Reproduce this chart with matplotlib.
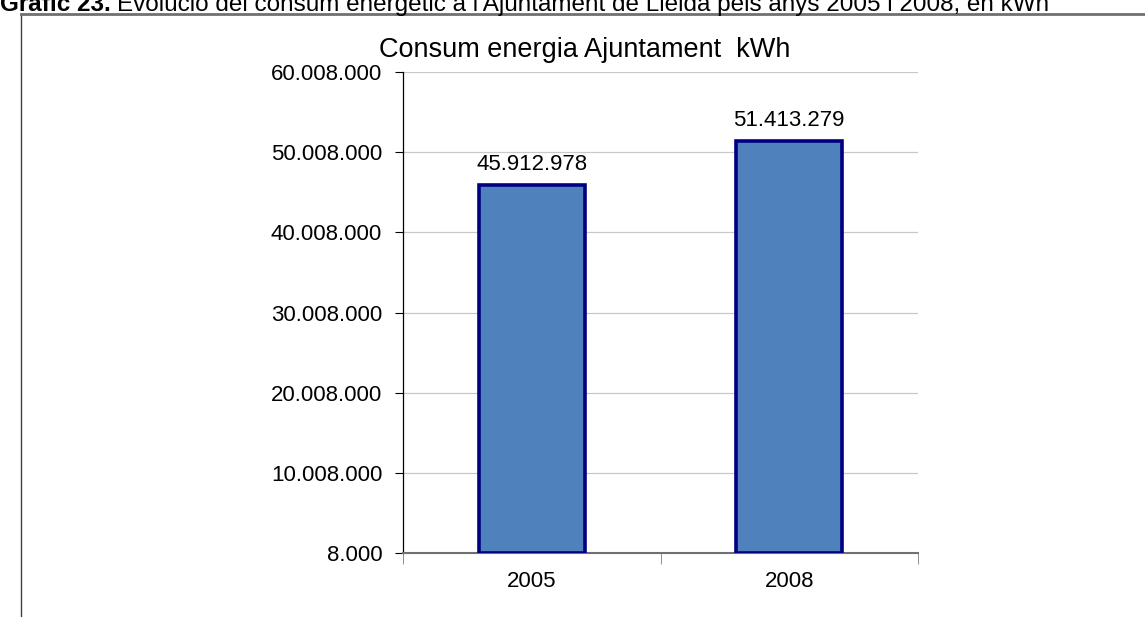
import matplotlib.pyplot as plt
from matplotlib.lines import Line2D
from matplotlib.ticker import FuncFormatter, FixedLocator

plt.rcParams['font.family'] = ['Liberation Sans', 'DejaVu Sans']

years = ["2005", "2008"]
consum_kwh = [45912978, 51413279]
y_ticks = [8000, 10008000, 20008000, 30008000, 40008000, 50008000, 60008000]

W, H = 1145, 617
fig = plt.figure(figsize=(W / 100, H / 100), dpi=100)
ax = fig.add_axes([403 / W, 1 - 553 / H, (918 - 403) / W, (553 - 72) / H])

x = list(range(len(years)))
bars = ax.bar(x, consum_kwh, width=0.41, bottom=0, color='#4F81BD',
              edgecolor='#000080', linewidth=2.6, zorder=3)

def dots(v, pos=None):
    return f"{int(v):,}".replace(",", ".")

for b, v in zip(bars, consum_kwh):
    ax.annotate(dots(v), (b.get_x() + b.get_width() / 2, v), xytext=(0, 7),
                textcoords='offset points', ha='center', va='bottom', fontsize=16)

ax.set_ylim(y_ticks[0], y_ticks[-1])
ax.set_yticks(y_ticks)
ax.yaxis.set_major_formatter(FuncFormatter(dots))
ax.yaxis.grid(True, color='#c8c8c8', linewidth=0.9, zorder=0)
ax.set_axisbelow(True)

ax.set_xlim(-0.5, len(years) - 0.5)
ax.set_xticks(x)
ax.set_xticklabels(years)
ax.xaxis.set_minor_locator(FixedLocator([-0.5, 0.5, 1.5]))
ax.tick_params(axis='x', which='major', length=0, pad=13, labelsize=16)
ax.tick_params(axis='x', which='minor', length=8, direction='out', color='#808080')
ax.tick_params(axis='y', length=6, direction='out', pad=9, labelsize=16)

for s in ['top', 'right']:
    ax.spines[s].set_visible(False)
ax.spines['left'].set_color('#000000')
ax.spines['left'].set_linewidth(0.9)
ax.spines['bottom'].set_color('#707070')
ax.spines['bottom'].set_linewidth(1.5)

fig.text(585 / W, 1 - 57 / H, "Consum energia Ajuntament  kWh", ha='center',
         va='baseline', fontsize=19.5)

# outer frame (top and left edges visible)
fig.add_artist(Line2D([21 / W, 21 / W], [1 - 14 / H, 0], transform=fig.transFigure,
                      color='#404040', linewidth=1))
fig.add_artist(Line2D([21 / W, 1], [1 - 14 / H, 1 - 14 / H], transform=fig.transFigure,
                      color='#707070', linewidth=2))

# header caption, cut at the top of the image
t1 = fig.text(0.0, 1 - 11 / H, "Gràfic 23.", fontsize=17.5, fontweight='bold',
              ha='left', va='baseline')
fig.canvas.draw()
bb = t1.get_window_extent()
fig.text((bb.x1 + 6) / W, 1 - 11 / H,
         "Evolució del consum energètic a l'Ajuntament de Lleida pels anys 2005 i 2008, en kWh",
         fontsize=17.5, ha='left', va='baseline')

fig.savefig("out.png", dpi=100)
